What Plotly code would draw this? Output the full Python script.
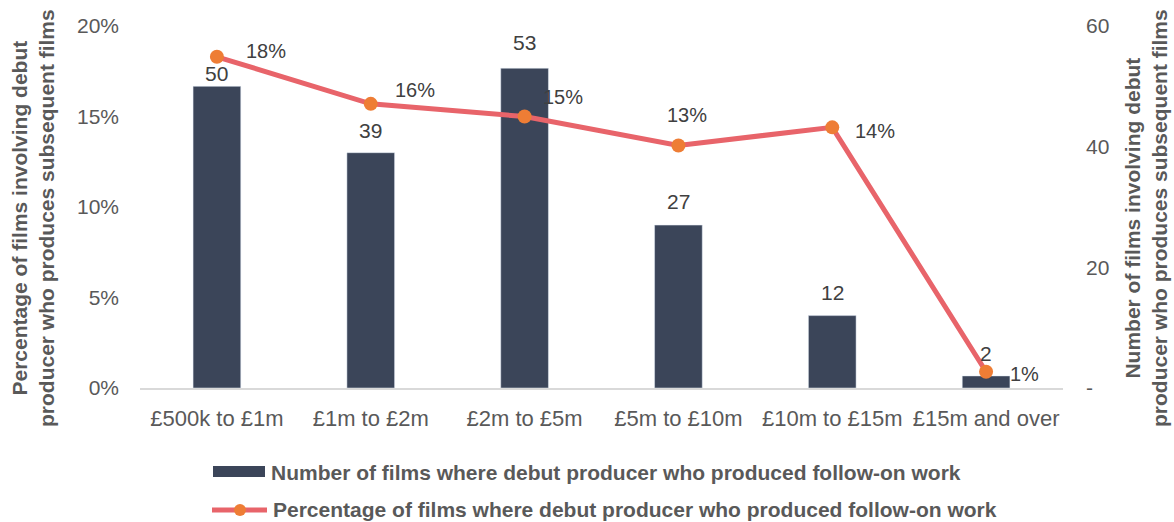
import plotly.graph_objects as go

# Budget bands and results
categories = ["£500k to £1m", "£1m to £2m", "£2m to £5m", "£5m to £10m", "£10m to £15m", "£15m and over"]
film_counts = [50, 39, 53, 27, 12, 2]
follow_on_share = [0.183, 0.157, 0.150, 0.134, 0.144, 0.009]

pct_ticks = [0, 0.05, 0.10, 0.15, 0.20]
pct_ticktext = ["0%", "5%", "10%", "15%", "20%"]
count_ticks = [0, 20, 40, 60]
count_ticktext = ["-", "20", "40", "60"]

bar_name = "Number of films where debut producer who produced follow-on work"
line_name = "Percentage of films where debut producer who produced follow-on work"
left_title = "Percentage of films involving debut<br>producer who produces subsequent films"
right_title = "Number of films involving debut<br>producer who produces subsequent films"

BAR_COLOR = "#3B4559"
LINE_COLOR = "#E8646A"
MARKER_COLOR = "#EE7D35"
TEXT_COLOR = "#595959"
LABEL_COLOR = "#404040"
FONT = "Arial, Liberation Sans, sans-serif"

W, H = 1174, 522
L, R, T, B = 140, 111, 26, 134
PW, PH = W - L - R, H - T - B


def px_x(x):
    return (x - L) / PW


def px_y(y):
    return (H - B - y) / PH


fig = go.Figure()

fig.add_trace(go.Bar(
    x=categories, y=film_counts, yaxis="y",
    marker_color=BAR_COLOR, width=0.31,
    cliponaxis=False, showlegend=False, name=bar_name,
))

fig.add_trace(go.Scatter(
    x=categories, y=follow_on_share, yaxis="y2", mode="lines+markers",
    line=dict(color=LINE_COLOR, width=5),
    marker=dict(color=MARKER_COLOR, size=14),
    cliponaxis=False, showlegend=False, name=line_name,
))

annotations = []

# Count labels above each bar
bar_label_lift = [13, 22, 26, 24, 23, 22]
for cat, val, dy in zip(categories, film_counts, bar_label_lift):
    annotations.append(dict(
        x=cat, y=val, xref="x", yref="y", text=str(val),
        showarrow=False, xanchor="center", yanchor="middle", yshift=dy,
        font=dict(size=21, color=LABEL_COLOR, family=FONT),
    ))

# Percentage labels beside each point
label_offsets = [(27, 6, "left"), (22, 14, "left"), (16, 20, "left"),
                 (9, 30, "center"), (21, -4, "left"), (22, -2, "left")]
for cat, val, (dx, dy, anchor) in zip(categories, follow_on_share, label_offsets):
    annotations.append(dict(
        x=cat, y=val, xref="x", yref="y2", text=f"{val:.0%}",
        showarrow=False, xanchor=anchor, yanchor="middle",
        xshift=dx, yshift=dy,
        font=dict(size=20, color=LABEL_COLOR, family=FONT),
    ))

# Axis titles
title_font = dict(size=21, color=TEXT_COLOR, family=FONT, weight="bold")
annotations.append(dict(
    x=px_x(33), y=px_y(218), xref="paper", yref="paper", text=left_title,
    textangle=-90, showarrow=False, xanchor="center", yanchor="middle",
    font=title_font,
))
annotations.append(dict(
    x=px_x(1146), y=px_y(218), xref="paper", yref="paper", text=right_title,
    textangle=-90, showarrow=False, xanchor="center", yanchor="middle",
    font=title_font,
))

# Legend
shapes = [
    dict(type="rect", xref="paper", yref="paper",
         x0=px_x(213), x1=px_x(265), y0=px_y(477), y1=px_y(466),
         fillcolor=BAR_COLOR, line=dict(width=0)),
    dict(type="line", xref="paper", yref="paper",
         x0=px_x(212), x1=px_x(267), y0=px_y(510), y1=px_y(510),
         line=dict(color=LINE_COLOR, width=5)),
    dict(type="circle", xref="paper", yref="paper",
         xsizemode="pixel", ysizemode="pixel",
         xanchor=px_x(240), yanchor=px_y(510),
         x0=-6, x1=6, y0=-6, y1=6,
         fillcolor=MARKER_COLOR, line=dict(width=0)),
]
legend_font = dict(size=21, color=TEXT_COLOR, family=FONT, weight="bold")
annotations.append(dict(
    x=px_x(269), y=px_y(472), xref="paper", yref="paper", text=bar_name,
    showarrow=False, xanchor="left", yanchor="middle", font=legend_font,
))
annotations.append(dict(
    x=px_x(271), y=px_y(510), xref="paper", yref="paper", text=line_name,
    showarrow=False, xanchor="left", yanchor="middle", font=legend_font,
))

fig.update_layout(
    width=W, height=H,
    margin=dict(l=L, r=R, t=T, b=B),
    paper_bgcolor="white", plot_bgcolor="white",
    font=dict(family=FONT, size=21, color=TEXT_COLOR),
    bargap=0.69,
    xaxis=dict(
        showgrid=False, showline=True, linecolor="#D9D9D9", linewidth=2,
        ticks="", tickfont=dict(size=22, color=TEXT_COLOR),
        ticklabelstandoff=10,
    ),
    yaxis=dict(
        side="right", range=[0, 60], tickvals=count_ticks, ticktext=count_ticktext,
        showgrid=False, zeroline=False, showline=False, ticks="",
        tickfont=dict(size=21, color=TEXT_COLOR), ticklabelstandoff=22,
    ),
    yaxis2=dict(
        side="left", overlaying="y", range=[0, 0.20],
        tickvals=pct_ticks, ticktext=pct_ticktext,
        showgrid=False, zeroline=False, showline=False, ticks="",
        tickfont=dict(size=21, color=TEXT_COLOR), ticklabelstandoff=20,
    ),
    annotations=annotations,
    shapes=shapes,
)

fig.write_html("out.html")
